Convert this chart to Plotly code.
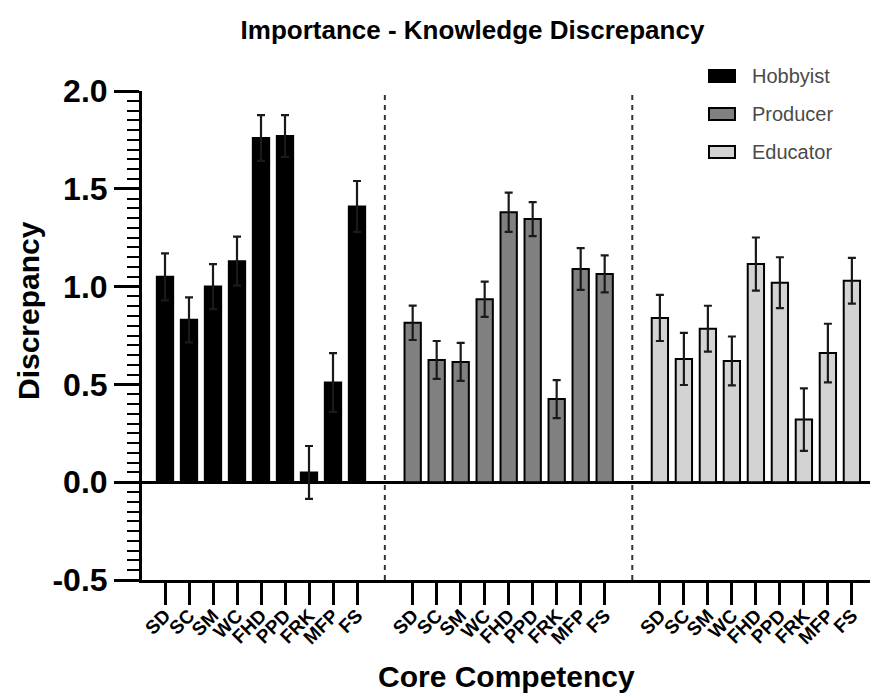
import plotly.graph_objects as go

# ---- data ----
competencies = ["SD", "SC", "SM", "WC", "FHD", "PPD", "FRK", "MFP", "FS"]
groups = ["Hobbyist", "Producer", "Educator"]
hobbyist = [1.05, 0.83, 1.00, 1.13, 1.76, 1.77, 0.05, 0.51, 1.41]
hobbyist_err = [0.12, 0.115, 0.115, 0.125, 0.117, 0.107, 0.135, 0.15, 0.13]
producer = [0.815, 0.625, 0.615, 0.935, 1.38, 1.345, 0.425, 1.09, 1.065]
producer_err = [0.088, 0.097, 0.097, 0.09, 0.10, 0.087, 0.097, 0.107, 0.095]
educator = [0.84, 0.63, 0.785, 0.62, 1.115, 1.02, 0.32, 0.66, 1.03]
educator_err = [0.118, 0.133, 0.117, 0.125, 0.136, 0.13, 0.16, 0.15, 0.117]
y_ticks = [-0.5, 0.0, 0.5, 1.0, 1.5, 2.0]
y_tick_labels = ["-0.5", "0.0", "0.5", "1.0", "1.5", "2.0"]

values = [hobbyist, producer, educator]
errors = [hobbyist_err, producer_err, educator_err]
fills = ["#000000", "#808080", "#d3d3d3"]
group_offsets = [0.0, 10.32, 20.62]

FONT = "Liberation Sans, Arial, sans-serif"

fig = go.Figure()
tickvals, ticktext = [], []
for g, name in enumerate(groups):
    xs = [group_offsets[g] + i for i in range(len(competencies))]
    tickvals += xs
    ticktext += competencies
    fig.add_trace(go.Bar(
        x=xs, y=values[g], name=name, width=0.68,
        marker=dict(color=fills[g], line=dict(color="#000000", width=2)),
        error_y=dict(type="data", array=errors[g], visible=True,
                     color="#1a1a1a", thickness=2.2, width=4),
        showlegend=False,
    ))

# dashed group separators (midway between groups)
n = len(competencies)
for g in range(1, len(groups)):
    xm = (group_offsets[g - 1] + n - 1 + group_offsets[g]) / 2
    fig.add_shape(type="line", xref="x", yref="paper", x0=xm, x1=xm, y0=0, y1=1,
                  line=dict(color="#333333", width=2, dash="5px,5px"))

# manual legend (wide rectangle swatches)
W, H = 870, 696
L, R, T, B = 142, 0, 91, 116
pw, ph = W - L - R, H - T - B
def px_x(p):
    return (p - L) / pw
def px_y(p):
    return (H - B - p) / ph
for g, name in enumerate(groups):
    yc = 76 + 38 * g
    fig.add_shape(type="rect", xref="paper", yref="paper",
                  x0=px_x(709), x1=px_x(735), y0=px_y(yc + 6), y1=px_y(yc - 6),
                  fillcolor=fills[g], line=dict(color="#000000", width=2))
    fig.add_annotation(xref="paper", yref="paper", x=px_x(750), y=px_y(yc),
                       text=name, showarrow=False, xanchor="left", yanchor="middle",
                       font=dict(family=FONT, size=20, color="#4a4a4a"))

# axis titles
fig.add_annotation(xref="paper", yref="paper", x=px_x(28), y=px_y(311),
                   text="<b>Discrepancy</b>", textangle=-90, showarrow=False,
                   xanchor="center", yanchor="middle",
                   font=dict(family=FONT, size=30, color="#000000"))
fig.add_annotation(xref="paper", yref="paper", x=px_x(506), y=px_y(676),
                   text="<b>Core Competency</b>", showarrow=False,
                   xanchor="center", yanchor="middle",
                   font=dict(family=FONT, size=30, color="#000000"))

xmin = -(165 - L) / 24.0
xmax = (W - R - 165) / 24.0

fig.update_layout(
    width=W, height=H,
    margin=dict(l=L, r=R, t=T, b=B),
    paper_bgcolor="white", plot_bgcolor="white",
    title=dict(text="<b>Importance - Knowledge Discrepancy</b>",
               x=472.5 / W, xref="container", xanchor="center",
               y=1 - 30 / H, yref="container", yanchor="middle",
               font=dict(family=FONT, size=26, color="#000000")),
    xaxis=dict(range=[xmin, xmax], tickmode="array", tickvals=tickvals,
               ticktext=ticktext, tickangle=-45, ticklabelstandoff=-8,
               tickfont=dict(family=FONT, size=19, color="#000000", weight="bold"),
               ticks="outside", ticklen=22, tickwidth=2.5, tickcolor="#000000",
               showline=True, linewidth=3, linecolor="#000000",
               showgrid=False, zeroline=False, automargin=False),
    yaxis=dict(range=[-0.5, 2.0], tickmode="array", tickvals=y_ticks,
               ticktext=y_tick_labels,
               tickfont=dict(family=FONT, size=32, color="#000000", weight="bold"),
               ticks="outside", ticklen=25, tickwidth=3, tickcolor="#000000",
               minor=dict(dtick=0.05, ticks="outside", ticklen=12, tickwidth=2,
                          tickcolor="#000000", showgrid=False),
               showline=True, linewidth=3, linecolor="#000000",
               showgrid=False, zeroline=True, zerolinecolor="#000000",
               zerolinewidth=3, automargin=False),
    bargap=0.3,
)

fig.write_html("out.html", config={"displayModeBar": False},
               post_script="document.body.style.margin='0';document.body.style.padding='0';")
